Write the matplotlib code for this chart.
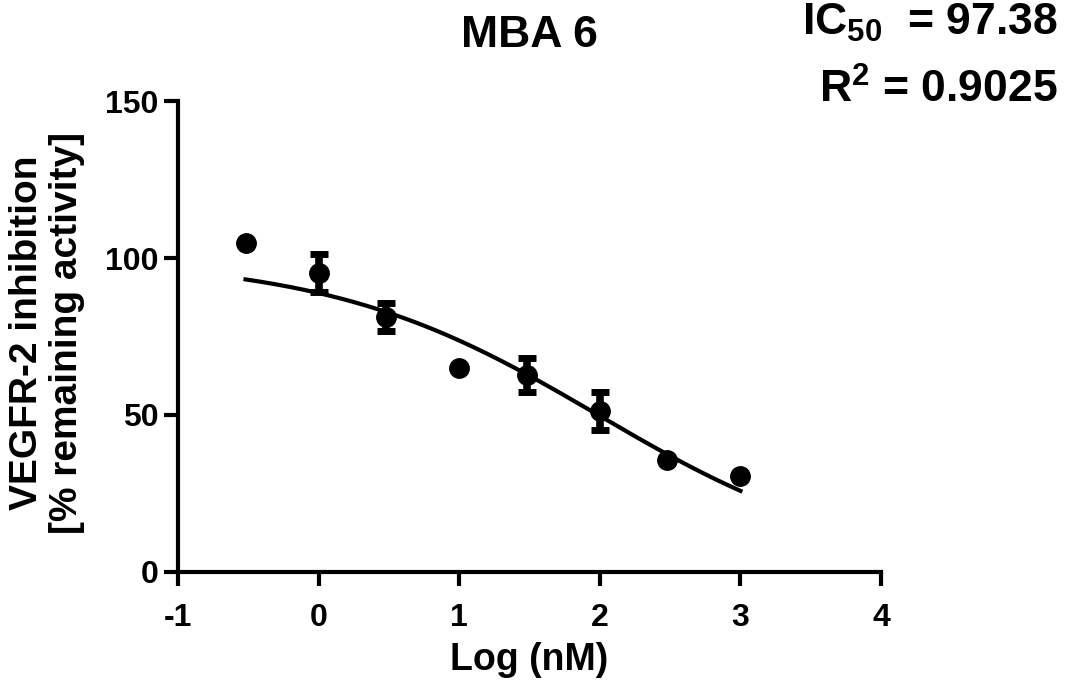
import numpy as np
import matplotlib
matplotlib.use("Agg")
import matplotlib.pyplot as plt

plt.rcParams['font.family'] = ['Liberation Sans', 'DejaVu Sans']
plt.rcParams['font.weight'] = 'bold'
plt.rcParams['mathtext.fontset'] = 'custom'
plt.rcParams['mathtext.rm'] = 'Liberation Sans:bold'
plt.rcParams['mathtext.it'] = 'Liberation Sans:bold'
plt.rcParams['mathtext.bf'] = 'Liberation Sans:bold'
plt.rcParams['mathtext.default'] = 'rm'

# Measured inhibition data (log concentration in nM)
log_conc = [-0.52, 0.0, 0.48, 1.0, 1.48, 2.0, 2.48, 3.0]
activity = [104.8, 95.2, 81.2, 65.0, 62.7, 51.3, 35.7, 30.6]
sem = [0.0, 6.0, 4.5, 0.0, 5.5, 6.0, 0.0, 0.0]

# Fit summary
ic50 = 97.38
r_squared = 0.9025
top, bottom, hill = 100.0, 0.0, 0.453

x_ticks = [-1, 0, 1, 2, 3, 4]
x_tick_labels = ['-1', '0', '1', '2', '3', '4']
y_ticks = [0, 50, 100, 150]

fig = plt.figure(figsize=(10.66, 6.85), dpi=100)
ax = fig.add_axes([0.167, 0.165, 0.6595, 0.6875])

# Four-parameter logistic dose-response curve
xf = np.linspace(min(log_conc), max(log_conc), 300)
yf = bottom + (top - bottom) / (1 + 10 ** ((xf - np.log10(ic50)) * hill))
ax.plot(xf, yf, color='black', lw=3.0, zorder=2)

# Data points with error bars
for xi, yi, ei in zip(log_conc, activity, sem):
    if ei > 0:
        ax.errorbar(xi, yi, yerr=ei, fmt='none', ecolor='black', elinewidth=5.5,
                    capsize=6.5, capthick=5, zorder=3)
ax.plot(log_conc, activity, 'o', color='black', ms=14, zorder=4)

ax.set_xlim(-1, 4)
ax.set_ylim(0, 150)
ax.set_xticks(x_ticks)
ax.set_xticklabels(x_tick_labels)
ax.set_yticks(y_ticks)
ax.tick_params(axis='both', direction='out', length=10, width=3, labelsize=23)
ax.tick_params(axis='x', pad=12)
ax.tick_params(axis='y', pad=4)
for lab in ax.get_xticklabels() + ax.get_yticklabels():
    lab.set_fontweight('bold')
for side in ['top', 'right']:
    ax.spines[side].set_visible(False)
for side in ['left', 'bottom']:
    ax.spines[side].set_linewidth(3)

fig.text(0.4967, 1 - 660 / 685, 'Log (nM)', ha='center', va='center',
         fontsize=27, fontweight='bold')
fig.text(47 / 1066, 1 - 333 / 685, 'VEGFR-2 inhibition\n[% remaining activity]',
         rotation=90, ha='center', va='center', fontsize=28,
         fontweight='bold', linespacing=1.12)
fig.text(0.4967, 1 - 47 / 685, 'MBA 6', ha='center', va='baseline',
         fontsize=32, fontweight='bold')

fig.text(0.992, 1 - 35 / 685, 'IC$_{50}$  = %.2f' % ic50, ha='right',
         va='baseline', fontsize=32, fontweight='bold')
fig.text(0.992, 1 - 103 / 685, 'R$^{2}$ = %.4f' % r_squared, ha='right',
         va='baseline', fontsize=32, fontweight='bold')

fig.savefig('out.png', dpi=100)
